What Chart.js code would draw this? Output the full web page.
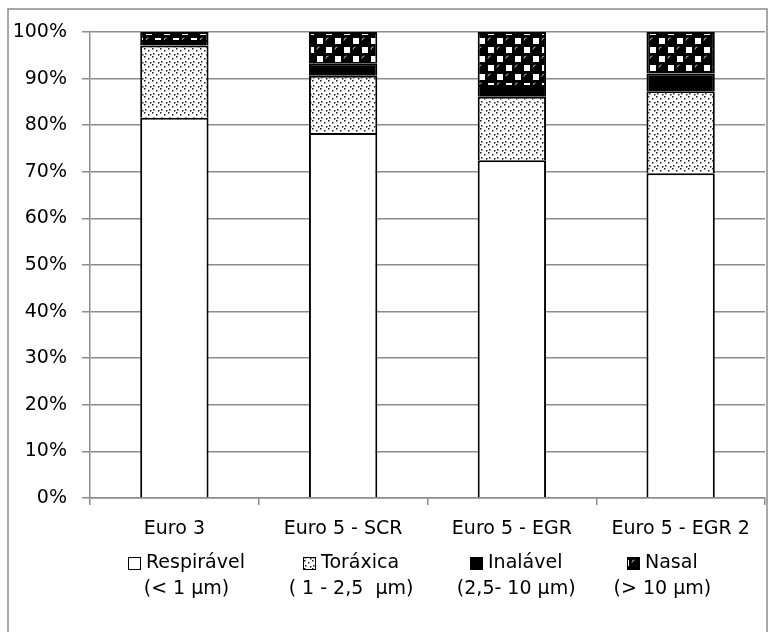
<!DOCTYPE html>
<html>
<head>
<meta charset="utf-8">
<script src="https://cdn.jsdelivr.net/npm/chart.js@4.4.1/dist/chart.umd.min.js"></script>
<style>
html, body { margin: 0; padding: 0; background: #fff; }
#wrap { width: 774px; height: 632px; position: relative; }
</style>
</head>
<body>
<div id="wrap"><canvas id="chart"></canvas></div>
<script>
// DATA
var categories = ['Euro 3', 'Euro 5 - SCR', 'Euro 5 - EGR', 'Euro 5 - EGR 2'];
var respiravel = [81.6, 78.3, 72.5, 69.7];
var toraxica = [15.5, 12.3, 13.6, 17.6];
var inalavel = [1.2, 2.7, 2.5, 3.8];
var nasal = [1.7, 6.7, 11.4, 8.9];
var seriesNames = ['Respirável', 'Toráxica', 'Inalável', 'Nasal'];
var sizeRanges = ['(< 1 µm)', '( 1 - 2,5  µm)', '(2,5- 10 µm)', '(> 10 µm)'];
var yTicks = [0, 10, 20, 30, 40, 50, 60, 70, 80, 90, 100];

var FONT = { family: '"DejaVu Sans"', size: 19 };
var GRAY = '#8c8c8c';

//PATTERNS
function dotPattern() {
    var c = document.createElement('canvas');
    c.width = 8; c.height = 8;
    var x = c.getContext('2d');
    x.fillStyle = '#fff';
    x.fillRect(0, 0, 8, 8);
    x.fillStyle = '#1a1a1a';
    [[0, 0], [4, 2], [1, 5], [6, 6]].forEach(function(p) {
        x.fillRect(p[0], p[1], 1.5, 1.5);
    });
    return x.createPattern(c, 'repeat');
}

function spherePattern() {
    var c = document.createElement('canvas');
    c.width = 18; c.height = 18;
    var x = c.getContext('2d');
    x.fillStyle = '#000';
    x.fillRect(0, 0, 18, 18);
    x.fillStyle = '#fff';
    x.fillRect(11, 2, 6, 6);
    x.fillRect(2, 11, 6, 6);
    x.strokeStyle = '#bbb';
    x.lineWidth = 1;
    x.beginPath(); x.arc(4.5, 4.5, 2.5, Math.PI, 1.5 * Math.PI); x.stroke();
    x.beginPath(); x.arc(13.5, 13.5, 2.5, Math.PI, 1.5 * Math.PI); x.stroke();
    return x.createPattern(c, 'repeat');
}

var fills = ['#ffffff', dotPattern(), '#000000', spherePattern()];

//PLUGINS
var framePlugin = {
    id: 'frame',
    afterDraw: function(chart) {
        var ctx = chart.ctx;
        ctx.save();
        ctx.strokeStyle = GRAY;
        ctx.lineWidth = 1.5;
        ctx.beginPath();
        ctx.moveTo(8, 640);
        ctx.lineTo(8, 9);
        ctx.lineTo(767, 9);
        ctx.lineTo(767, 640);
        ctx.stroke();
        ctx.restore();
    }
};

var legendX = [128, 303, 470, 627];
var legendPlugin = {
    id: 'twoLineLegend',
    afterDraw: function(chart) {
        var ctx = chart.ctx;
        ctx.save();
        ctx.font = FONT.size + 'px ' + FONT.family;
        ctx.textBaseline = 'middle';
        for (var i = 0; i < seriesNames.length; i++) {
            var bx = legendX[i], by = 557, bs = 13;
            ctx.fillStyle = fills[i];
            ctx.fillRect(bx, by, bs, bs);
            ctx.strokeStyle = '#000';
            ctx.lineWidth = 1;
            ctx.strokeRect(bx + 0.5, by + 0.5, bs - 1, bs - 1);
            ctx.fillStyle = '#000';
            ctx.textAlign = 'left';
            var tx = bx + bs + 5;
            ctx.fillText(seriesNames[i], tx, 563);
            var w = ctx.measureText(seriesNames[i]).width;
            ctx.textAlign = 'center';
            ctx.fillText(sizeRanges[i], (bx + tx + w) / 2, 589);
        }
        ctx.restore();
    }
};

//CHART
var seriesData = [respiravel, toraxica, inalavel, nasal];
var datasets = seriesNames.map(function(name, i) {
    return {
        label: name,
        data: seriesData[i],
        backgroundColor: fills[i],
        borderColor: '#000',
        borderWidth: 2,
        barPercentage: 0.405,
        categoryPercentage: 1
    };
});

var chart = new Chart(document.getElementById('chart'), {
    type: 'bar',
    data: { labels: categories, datasets: datasets },
    options: {
        responsive: true,
        maintainAspectRatio: false,
        animation: false,
        layout: { padding: { top: 32, right: 9, left: 0, bottom: 0 } },
        plugins: {
            legend: { display: false },
            tooltip: { enabled: false }
        },
        scales: {
            x: {
                stacked: true,
                grid: { drawOnChartArea: false, drawTicks: true, tickLength: 7, color: GRAY, lineWidth: 1.5, offset: true },
                border: { color: GRAY, width: 1.5 },
                ticks: { font: FONT, color: '#000', padding: 13, maxRotation: 0, autoSkip: false },
                afterFit: function(s) { s.height = 134; }
            },
            y: {
                stacked: true,
                min: 0,
                max: 100,
                afterBuildTicks: function(s) {
                    s.ticks = yTicks.map(function(v) { return { value: v }; });
                },
                ticks: {
                    font: FONT,
                    color: '#000',
                    padding: 15,
                    callback: function(v) { return v + '%'; }
                },
                grid: { color: GRAY, lineWidth: 1.5, tickLength: 8 },
                border: { color: GRAY, width: 1.5 },
                afterFit: function(s) { s.width = 90; }
            }
        }
    },
    plugins: [framePlugin, legendPlugin]
});
</script>
</body>
</html>
